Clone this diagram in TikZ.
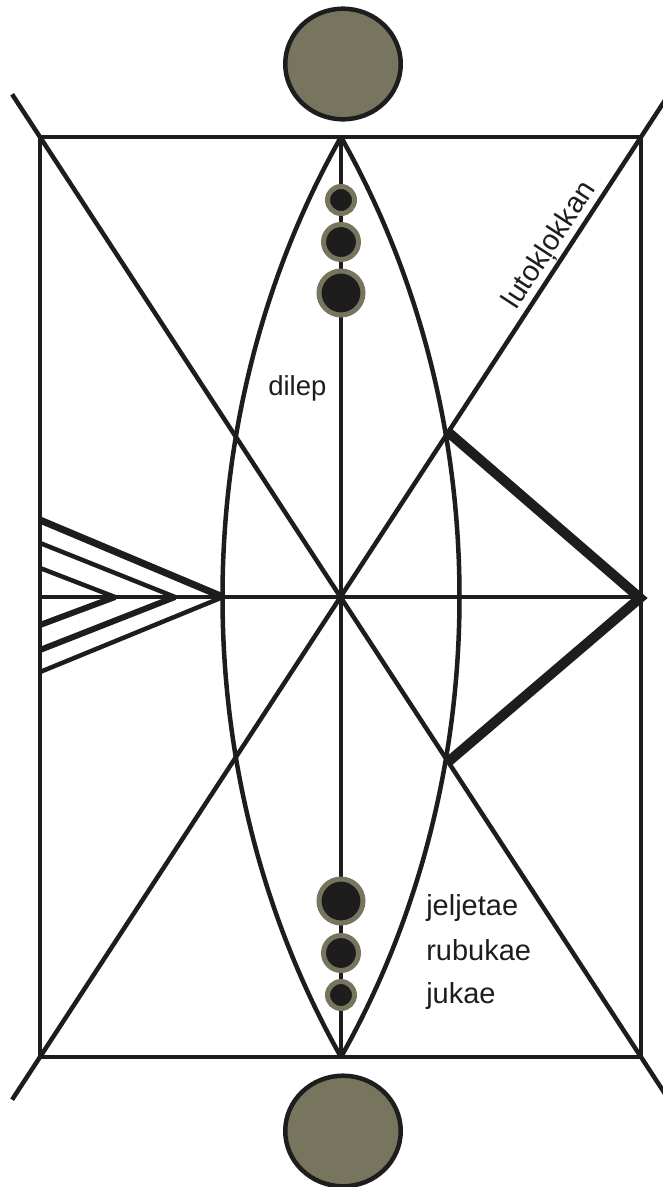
\documentclass[tikz,border=0pt]{standalone}
\usepackage{fontspec}
\setmainfont{Liberation Sans}
\definecolor{ink}{HTML}{1D1D1D}
\definecolor{olivegray}{HTML}{77755D}
\tikzset{
  bead/.style={fill=ink, draw=olivegray, line width=5pt},
  orb/.style={fill=olivegray, draw=ink, line width=4.5pt},
  lbl/.style={font=\fontsize{29}{33}\selectfont, text=ink, inner sep=0pt}
}

\begin{document}
\begin{tikzpicture}[x=1pt,y=-1pt,line width=4.5pt,color=ink]
    \useasboundingbox (0,0) rectangle (662,1187);
    % frame points
    \coordinate (tl) at (40,137);
    \coordinate (tr) at (641,137);
    \coordinate (bl) at (40,1057);
    \coordinate (br) at (641,1057);
    \coordinate (top) at (341,137);
    \coordinate (bot) at (341,1057);
    \coordinate (lm) at (40,597);
    \coordinate (rm) at (641,597);
    % orbs above and below
    \draw[orb] (343,64) ellipse (57.75 and 55.3);
    \draw[orb] (343,1131) ellipse (57.75 and 55.3);
    % frame, axes and diagonals
    \draw (tl) rectangle (br);
    \draw (lm) -- (rm);
    \draw (top) -- (bot);
    \draw[shorten <=-51pt, shorten >=-51pt] (tl) -- (br);
    \draw[shorten <=-51pt, shorten >=-51pt] (tr) -- (bl);
    % lens
    \draw (top) .. controls (183,417) and (183,777) .. (bot);
    \draw (top) .. controls (499,417) and (499,777) .. (bot);
    % heavy wedge on the right
    \draw[line width=10pt, line join=miter] (448,432) -- (640,598) -- (448,762);
    % chevrons on the left
    \draw[line width=7pt] (40,520) -- (223,597);
    \draw (40,543) -- (175,597);
    \draw (40,568) -- (115,597);
    \draw[line width=6pt] (40,625) -- (115,597);
    \draw[line width=6pt] (40,650) -- (175,597);
    \draw (40,672) -- (223,597);
    % beads
    \foreach \y/\r in {200/13.5, 242/17.5, 293/22, 901/22, 953/17.5, 995/13.5}
        \draw[bead] (341,\y) circle (\r);
    % labels
    \node[lbl, font=\fontsize{27.5}{31}\selectfont, anchor=base west] (dilep) at (266,395) {dilep};
    \node[lbl, anchor=base west] (jeljetae) at (424,915) {jeljetae};
    \node[lbl, anchor=base west] (rubukae) at (424,960) {rubukae};
    \node[lbl, anchor=base west] (jukae) at (424,1003) {jukae};
    \path (bl) -- (tr) node[lbl, pos=0.872, sloped, above, inner sep=1pt] (lutok) {lutokļokkan};
\end{tikzpicture}
\end{document}
